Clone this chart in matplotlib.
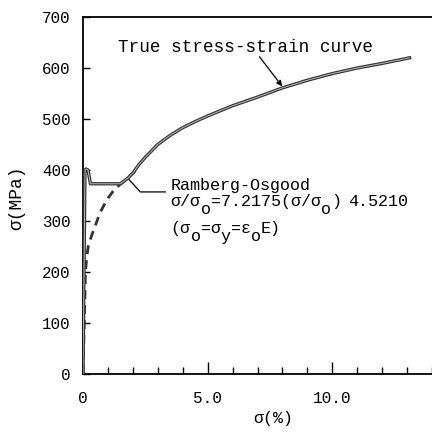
import matplotlib
matplotlib.use("Agg")
import matplotlib.pyplot as plt
from matplotlib.ticker import MultipleLocator

plt.rcParams['font.family'] = ['Liberation Mono', 'DejaVu Sans Mono']

# True stress-strain curve (strain %, stress MPa)
true_strain = [0.0, 0.08, 0.12, 0.2, 0.3, 1.5, 1.8, 2.0, 2.25, 2.5, 3.0, 3.5, 4.0, 4.5, 5.0, 6.0, 7.0, 8.0, 9.0, 10.0, 11.0, 12.0, 13.1]
true_stress = [0, 400, 402, 400, 373, 373, 384, 394, 411, 425, 450, 468, 483, 495, 506, 526, 543, 561, 576, 589, 600, 609, 620]

# Ramberg-Osgood fit (dashed)
ro_strain = [0.0, 0.1, 0.15, 0.21, 0.35, 0.48, 0.68, 0.95, 1.2, 1.47, 1.8, 2.27]
ro_stress = [0, 200, 230, 250, 272, 289, 316, 341, 358, 371, 384, 407]

yticks = [0, 100, 200, 300, 400, 500, 600, 700]
ytick_labels = ['0', '100', '200', '300', '400', '500', '600', '700']
xticks = [0, 5, 10]
xtick_labels = ['0', '5.0', '10.0']

fig = plt.figure(figsize=(4.32, 4.34), dpi=100)
ax = fig.add_axes([83/432, 1-374/434, 349/432, (374-17)/434])
ax.set_xlim(0, 14)
ax.set_ylim(0, 700)

ax.plot(true_strain, true_stress, color='#333333', lw=2.4, solid_joinstyle='round', zorder=3)
ax.plot(true_strain, true_stress, color='#bbbbbb', lw=0.7, zorder=4)
ax.plot(ro_strain, ro_stress, color='#333333', lw=2.0, dashes=(3.2, 2.2), zorder=3)

# annotations
ax.text(1.41, 632, 'True stress-strain curve', fontsize=12.7, va='baseline', ha='left')
ax.annotate('', xy=(7.99, 564), xytext=(7.08, 622),
            arrowprops=dict(arrowstyle='-|>', color='black', lw=0.9,
                            mutation_scale=8, shrinkA=0, shrinkB=0))

ax.plot([1.85, 2.3, 3.3], [381, 357, 357], color='black', lw=0.9, zorder=5)
fs = 12.1
x0 = 3.51
cw = 0.6 * fs * 100 / 72 / 25.0  # one monospace character cell in data units
ax.text(x0, 360, 'Ramberg-Osgood', fontsize=fs, va='baseline', ha='left')

line2 = [('σ/σ', 0, 0), ('o', 3, 1), ('=7.2175(σ/σ', 4, 0), ('o', 15, 1), (')', 16, 0), ('4.5210', 17.7, 0)]
line3 = [('(σ', 0, 0), ('o', 2, 1), ('=σ', 3, 0), ('y', 5, 1), ('=ε', 6, 0), ('o', 8, 1), ('E)', 9, 0)]
for txt, idx, sub in line2:
    ax.text(x0 + idx * cw, 329 - 15.5 * sub, txt, fontsize=fs, va='baseline', ha='left')
for txt, idx, sub in line3:
    ax.text(x0 + idx * cw, 276 - 15.5 * sub, txt, fontsize=fs, va='baseline', ha='left')

# axes styling
ax.spines['right'].set_visible(False)
for s in ['left', 'bottom', 'top']:
    ax.spines[s].set_linewidth(1.3)

ax.set_yticks(yticks)
ax.set_yticklabels(ytick_labels)
ax.set_xticks(xticks)
ax.set_xticklabels(xtick_labels)
ax.xaxis.set_minor_locator(MultipleLocator(1))

ax.tick_params(axis='y', direction='in', length=5, width=1, pad=9, labelsize=11.4)
ax.tick_params(axis='x', which='major', direction='in', length=9, width=1, pad=12, labelsize=11.6)
ax.tick_params(axis='x', which='minor', direction='in', length=5, width=1)
ax.tick_params(top=False, right=False, which='both')

ax.set_ylabel('σ(MPa)', fontsize=13)
ax.set_xlabel('σ(%)', fontsize=12)
ax.yaxis.set_label_coords(-0.166, 0.493)
ax.xaxis.set_label_coords(0.544, -0.105)

fig.savefig('out.png', dpi=100)
